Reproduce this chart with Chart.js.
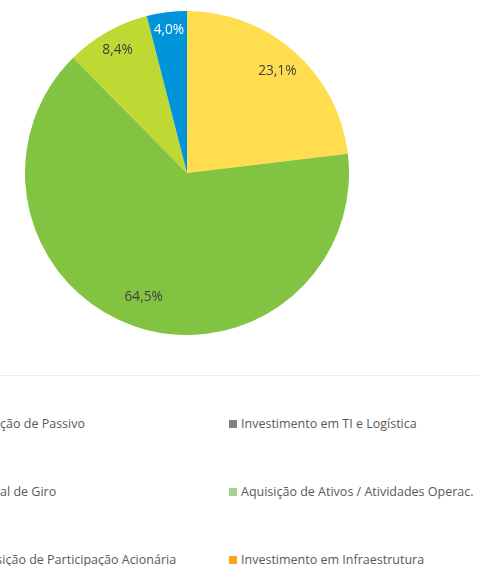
<!DOCTYPE html>
<html>
<head>
<meta charset="utf-8">
<script src="https://cdn.jsdelivr.net/npm/chart.js"></script>
<style>
  html, body { margin: 0; padding: 0; background: #fff; overflow: hidden; }
  body { width: 479px; height: 566px; position: relative; font-family: "Open Sans", sans-serif; }
  #pieBox { position: absolute; left: 25px; top: 11px; width: 324px; height: 324px; }
  #sep { position: absolute; left: 0; top: 375px; width: 479px; height: 1px; background: #ececec; }
  #legend { position: absolute; left: -42px; top: 0; }
  .item { position: absolute; white-space: nowrap; font-size: 12.5px; color: #595959; line-height: 16px; }
  .item span.box { display: inline-block; width: 8px; height: 8px; margin-right: 4px; vertical-align: 0px; }
</style>
</head>
<body>
<div id="pieBox"><canvas id="myChart"></canvas></div>
<div id="sep"></div>
<div id="legend"></div>
<script>
const labels = [
  'Redução de Passivo',
  'Investimento em TI e Logística',
  'Capital de Giro',
  'Aquisição de Ativos / Atividades Operac.',
  'Aquisição de Participação Acionária',
  'Investimento em Infraestrutura',
  'Outros'
];
const values = [23.1, 0, 64.5, 0, 8.4, 0, 4.0];
const colors = ['#FFDD4F', '#7F7F7F', '#82C341', '#A9D18E', '#BFD833', '#F7A823', '#0095DA'];
const labelColors = ['#404040', '#404040', '#404040', '#404040', '#404040', '#404040', '#ffffff'];

// draws the percentage text on each slice
const sliceLabels = {
  id: 'sliceLabels',
  afterDatasetsDraw(chart) {
    const ctx = chart.ctx;
    const meta = chart.getDatasetMeta(0);
    ctx.save();
    ctx.font = '13.7px "Open Sans", sans-serif';
    ctx.textAlign = 'center';
    ctx.textBaseline = 'middle';
    meta.data.forEach((arc, i) => {
      const v = values[i];
      if (!v) return;
      const mid = (arc.startAngle + arc.endAngle) / 2;
      const k = v > 50 ? 0.81 : v > 20 ? 0.84 : v > 5 ? 0.87 : 0.89;
      const x = arc.x + Math.cos(mid) * arc.outerRadius * k;
      const y = arc.y + Math.sin(mid) * arc.outerRadius * k;
      ctx.fillStyle = labelColors[i];
      ctx.fillText(v.toFixed(1).replace('.', ',') + '%', x, y);
    });
    ctx.restore();
  }
};

const ctx = document.getElementById('myChart').getContext('2d');
const myChart = new Chart(ctx, {
  type: 'pie',
  data: {
    labels: labels,
    datasets: [{
      data: values,
      backgroundColor: colors,
      borderWidth: 0
    }]
  },
  options: {
    responsive: true,
    maintainAspectRatio: false,
    animation: false,
    layout: { padding: 0 },
    plugins: {
      legend: { display: false },
      tooltip: { enabled: false }
    }
  },
  plugins: [sliceLabels]
});

// html legend, two columns
const legendEl = document.getElementById('legend');
const items = myChart.options.plugins.legend.labels.generateLabels(myChart);
items.forEach((it, i) => {
  const col = i % 2;
  const row = Math.floor(i / 2);
  const d = document.createElement('div');
  d.className = 'item';
  d.style.left = (col * 271) + 'px';
  d.style.top = (416 + row * 68) + 'px';
  d.innerHTML = '<span class="box" style="background:' + colors[i] + '"></span>' + it.text;
  legendEl.appendChild(d);
});
</script>
</body>
</html>
